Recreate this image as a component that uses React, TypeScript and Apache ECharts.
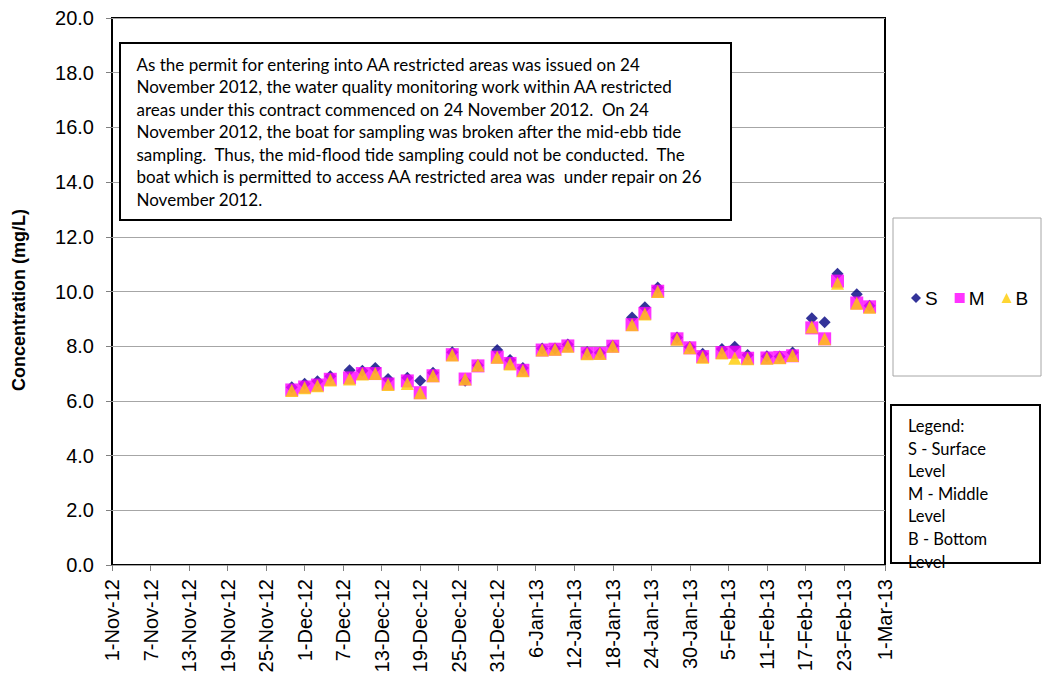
import React, { useEffect, useRef } from "react";
import * as echarts from "echarts";

// ---- data ----
const sampleDates: string[] = [
  "29-Nov-12", "1-Dec-12", "3-Dec-12", "5-Dec-12", "8-Dec-12", "10-Dec-12", "12-Dec-12", "14-Dec-12",
  "17-Dec-12", "19-Dec-12", "21-Dec-12", "24-Dec-12", "26-Dec-12", "28-Dec-12", "31-Dec-12",
  "2-Jan-13", "4-Jan-13", "7-Jan-13", "9-Jan-13", "11-Jan-13", "14-Jan-13", "16-Jan-13", "18-Jan-13",
  "21-Jan-13", "23-Jan-13", "25-Jan-13", "28-Jan-13", "30-Jan-13", "1-Feb-13", "4-Feb-13", "6-Feb-13",
  "8-Feb-13", "11-Feb-13", "13-Feb-13", "15-Feb-13", "18-Feb-13", "20-Feb-13", "22-Feb-13",
  "25-Feb-13", "27-Feb-13",
];
const surface: number[] = [
  6.5, 6.63, 6.72, 6.9, 7.12, 7.1, 7.2, 6.8, 6.85, 6.74, 7.03, 7.78, 6.74, 7.3, 7.86,
  7.5, 7.2, 7.92, 7.92, 8.06, 7.79, 7.76, 8.02, 9.05, 9.42, 10.15, 8.32, 7.97, 7.72, 7.9, 7.98,
  7.68, 7.63, 7.62, 7.77, 9.02, 8.88, 10.65, 9.9, 9.48,
];
const middle: number[] = [
  6.4, 6.51, 6.58, 6.79, 6.84, 7.0, 7.0, 6.62, 6.73, 6.3, 6.92, 7.69, 6.8, 7.28, 7.6,
  7.37, 7.12, 7.86, 7.89, 8.01, 7.74, 7.74, 8.0, 8.79, 9.2, 10.01, 8.27, 7.94, 7.62, 7.77, 7.78,
  7.56, 7.57, 7.59, 7.65, 8.67, 8.27, 10.38, 9.58, 9.44,
];
const bottom: number[] = [
  6.38, 6.48, 6.55, 6.76, 6.8, 6.98, 7.0, 6.6, 6.64, 6.3, 6.92, 7.68, 6.8, 7.3, 7.6,
  7.35, 7.1, 7.86, 7.89, 8.0, 7.72, 7.73, 8.0, 8.78, 9.18, 10.0, 8.25, 7.94, 7.6, 7.75, 7.56,
  7.54, 7.56, 7.58, 7.66, 8.7, 8.27, 10.3, 9.57, 9.42,
];
const seriesNames = ["S", "M", "B"];
const axisStart = "1-Nov-12";
const axisEnd = "1-Mar-13";
const noteLines: string[] = [
  "As the permit for entering into AA restricted areas was issued on 24",
  "November 2012, the water quality monitoring work within AA restricted",
  "areas under this contract commenced on 24 November 2012.  On 24",
  "November 2012, the boat for sampling was broken after the mid-ebb tide",
  "sampling.  Thus, the mid-flood tide sampling could not be conducted.  The",
  "boat which is permitted to access AA restricted area was  under repair on 26",
  "November 2012.",
];
const keyLines: string[] = [
  "Legend:", "S - Surface", "Level", "M - Middle", "Level", "B - Bottom", "Level",
];
const yTitle = "Concentration (mg/L)";

// ---- helpers ----
const MONTHS = ["Jan", "Feb", "Mar", "Apr", "May", "Jun", "Jul", "Aug", "Sep", "Oct", "Nov", "Dec"];
const DAY = 86400000;
function parseDate(s: string): number {
  const [d, m, y] = s.split("-");
  return Date.UTC(2000 + Number(y), MONTHS.indexOf(m), Number(d));
}
const origin = parseDate(axisStart);
const toDay = (s: string) => (parseDate(s) - origin) / DAY;
function dayLabel(v: number): string {
  const dt = new Date(origin + Math.round(v) * DAY);
  return `${dt.getUTCDate()}-${MONTHS[dt.getUTCMonth()]}-${String(dt.getUTCFullYear()).slice(2)}`;
}

const AXIS_FONT = "'Liberation Sans', Arial, sans-serif";
const BOX_FONT = "Lato, 'Open Sans', sans-serif";

export default function App() {
  const ref = useRef<HTMLDivElement>(null);
  useEffect(() => {
    if (!ref.current) return;
    const chart = echarts.init(ref.current, undefined, { renderer: "svg" });
    const days = sampleDates.map(toDay);
    const mk = (vals: number[]) => vals.map((v, i) => [days[i], v]);

    const graphics: any[] = [
      {
        type: "text",
        x: 19,
        y: 300,
        rotation: Math.PI / 2,
        style: {
          text: yTitle,
          font: `bold 18px ${AXIS_FONT}`,
          fill: "#000",
          textAlign: "center",
          textVerticalAlign: "middle",
        },
        z: 10,
      },
      {
        type: "rect",
        shape: { x: 120, y: 43, width: 611, height: 177 },
        style: { fill: "#fff", stroke: "#000", lineWidth: 2 },
        z: 10,
      },
      ...noteLines.map((t, i) => ({
        type: "text",
        x: 136.5,
        y: 64.3 + i * 22.5,
        style: { text: t, font: `17px ${BOX_FONT}`, fill: "#000", textVerticalAlign: "middle" },
        z: 11,
      })),
      {
        type: "rect",
        shape: { x: 893, y: 218, width: 148, height: 158 },
        style: { fill: "#fff", stroke: "#a6a6a6", lineWidth: 1 },
        z: 1,
      },
      {
        type: "rect",
        shape: { x: 891, y: 405, width: 149, height: 158 },
        style: { fill: "#fff", stroke: "#000", lineWidth: 2 },
        z: 10,
      },
      ...keyLines.map((t, i) => ({
        type: "text",
        x: 908,
        y: 426 + i * 22.6,
        style: { text: t, font: `16.5px ${BOX_FONT}`, fill: "#000", textVerticalAlign: "middle" },
        z: 11,
      })),
    ];

    chart.setOption({
      animation: false,
      backgroundColor: "#fff",
      grid: {
        left: 112,
        top: 18,
        width: 773,
        height: 547,
        show: true,
        borderColor: "#000",
        borderWidth: 2,
        backgroundColor: "transparent",
      },
      legend: {
        data: seriesNames,
        left: 911,
        top: 288,
        itemWidth: 10,
        itemHeight: 10,
        itemGap: 17,
        padding: 0,
        textStyle: { fontFamily: AXIS_FONT, fontSize: 19, color: "#000", lineHeight: 20, padding: [0, 0, 0, -1] },
        z: 5,
      },
      xAxis: {
        type: "value",
        min: 0,
        max: toDay(axisEnd) + 0.4,
        interval: 6,
        axisLine: { show: false },
        axisTick: { show: true, length: 6, lineStyle: { color: "#808080" } },
        splitLine: { show: false },
        axisLabel: {
          rotate: 90,
          margin: 14,
          fontFamily: AXIS_FONT,
          fontSize: 20,
          color: "#000",
          showMaxLabel: true,
          formatter: (v: number) => dayLabel(v),
        },
      },
      yAxis: {
        type: "value",
        min: 0,
        max: 20,
        interval: 2,
        axisLine: { show: false },
        axisTick: { show: true, length: 6, lineStyle: { color: "#808080" } },
        splitLine: { show: true, lineStyle: { color: "#a6a6a6", width: 1 } },
        axisLabel: {
          margin: 18,
          fontFamily: AXIS_FONT,
          fontSize: 20,
          color: "#000",
          formatter: (v: number) => v.toFixed(1),
        },
      },
      graphic: graphics,
      series: [
        {
          name: "S",
          type: "scatter",
          symbol: "diamond",
          symbolSize: 12,
          itemStyle: { color: "#000080" },
          data: mk(surface),
          z: 3,
        },
        {
          name: "M",
          type: "scatter",
          symbol: "rect",
          symbolSize: 13,
          itemStyle: { color: "#ff00ff" },
          data: mk(middle),
          z: 4,
        },
        {
          name: "B",
          type: "scatter",
          symbol: "triangle",
          symbolSize: 13,
          itemStyle: { color: "#ffcc00" },
          data: mk(bottom),
          z: 5,
        },
      ],
    });
    return () => chart.dispose();
  }, []);
  return (
    <div
      ref={ref}
      style={{ position: "fixed", left: 0, top: 0, width: 1045, height: 677, background: "#fff" }}
    />
  );
}
